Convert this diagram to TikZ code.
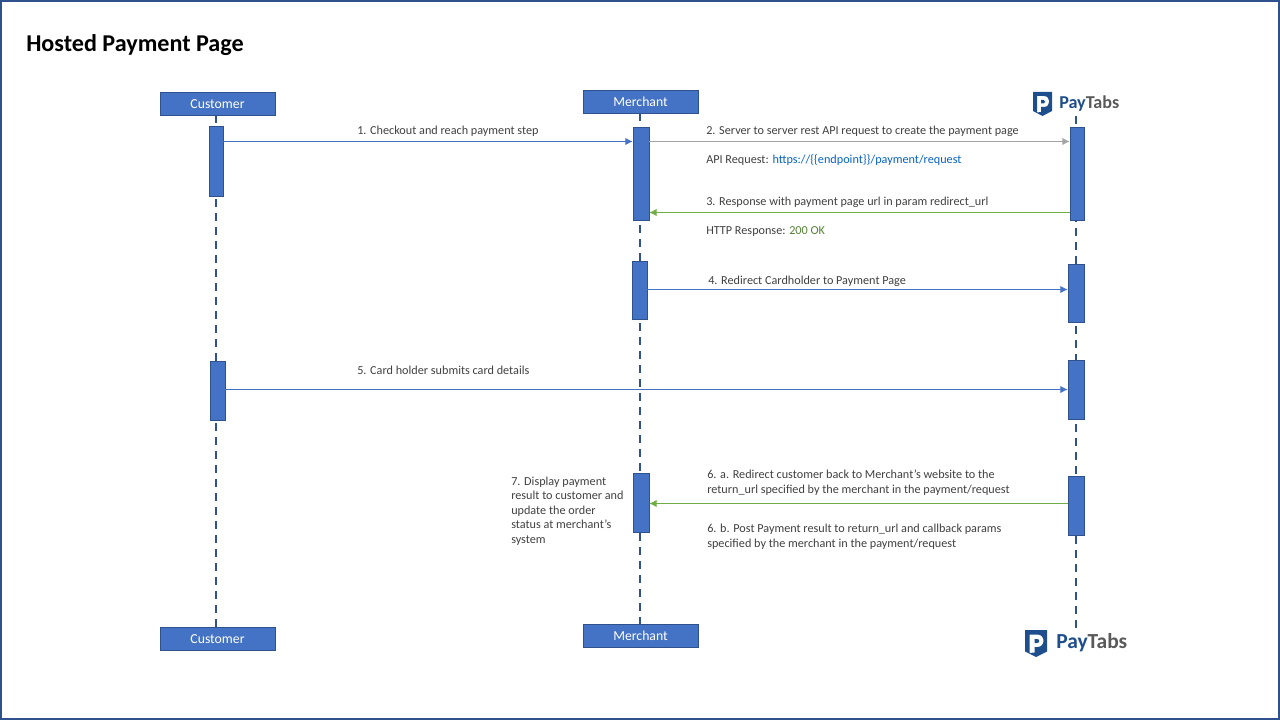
\documentclass[tikz,border=0pt]{standalone}
\usepackage{fontspec}
\usetikzlibrary{arrows.meta}
\setmainfont{Carlito}
\definecolor{boxblue}{HTML}{4472C4}
\definecolor{boxedge}{HTML}{2F528F}
\definecolor{msggray}{HTML}{A5A5A5}
\definecolor{msggreen}{HTML}{70AD47}
\definecolor{txtgray}{HTML}{404040}
\definecolor{linkblue}{HTML}{0563C1}
\definecolor{okgreen}{HTML}{548235}
\definecolor{logonavy}{HTML}{1F4E8C}
\definecolor{logogray}{HTML}{595959}
\tikzset{
  actorbox/.style={draw=boxedge,fill=boxblue,text=white,minimum width=86pt,minimum height=17.25pt,
    inner sep=0pt,font=\fontsize{10.3pt}{12pt}\selectfont},
  actbar/.style={draw=boxedge,fill=boxblue,inner sep=0pt},
  life/.style={boxedge,line width=1.1pt,dash pattern=on 6pt off 4.5pt},
  msgline/.style={-{Latex[length=5.5pt,width=5.5pt]},line width=0.75pt},
  msgtext/.style={anchor=west,inner sep=0pt,text=txtgray,align=left,
    font=\fontsize{9.15pt}{11.25pt}\selectfont},
}
\begin{document}
\begin{tikzpicture}[x=0.75pt,y=-0.75pt]
  \useasboundingbox (0,0) rectangle (1280,720);
  \draw[boxedge,line width=1.5pt] (1,1) rectangle (1279,719);
  \node[anchor=west,inner sep=0pt,font=\fontsize{18.1pt}{20pt}\selectfont\bfseries] (title) at (26,45) {Hosted Payment Page};
  % actors
  \node[actorbox,text depth=0pt,yshift=-0.5pt] (custtop) at (217.5,103) {Customer};
  \node[actorbox,text depth=0pt,yshift=-0.5pt] (custbot) at (217.5,638) {Customer};
  \node[actorbox] (merchtop) at (640.5,101.5) {Merchant};
  \node[actorbox] (merchbot) at (640.5,635.5) {Merchant};
  \coordinate (paytop) at (1076,116);
  \coordinate (paybot) at (1076,630);
  \coordinate (custx) at (216,0);
  \coordinate (merchx) at (640,0);
  % lifelines
  \draw[life] (custx |- custtop.south) -- (custx |- custbot.north);
  \draw[life] (merchx |- merchtop.south) -- (merchx |- merchbot.north);
  \draw[life] (paytop) -- (paybot);
  % bars
  \node[actbar,minimum width=10.5pt,minimum height=52.5pt] (cust1) at (216,161) {};
  \node[actbar,minimum width=11.25pt,minimum height=44.25pt] (cust2) at (217.5,390.5) {};
  \node[actbar,minimum width=12pt,minimum height=69.75pt] (merch1) at (641,173.5) {};
  \node[actbar,minimum width=11.25pt,minimum height=43.5pt] (merch2) at (639.5,290) {};
  \node[actbar,minimum width=12pt,minimum height=44.25pt] (merch3) at (641,502.5) {};
  \node[actbar,minimum width=10.5pt,minimum height=69.75pt] (pay1) at (1077,173.5) {};
  \node[actbar,minimum width=12pt,minimum height=43.5pt] (pay2) at (1076,293) {};
  \node[actbar,minimum width=12pt,minimum height=44.25pt] (pay3) at (1076,389.5) {};
  \node[actbar,minimum width=12pt,minimum height=44.25pt] (pay4) at (1076,505.5) {};
  % message heights
  \coordinate (y1) at (0,141.5);
  \coordinate (y3) at (0,212.5);
  \coordinate (y4) at (0,289.5);
  \coordinate (y5) at (0,389.5);
  \coordinate (y6) at (0,503.5);
  \draw[msgline,boxblue] (cust1.east |- y1) -- (merch1.west |- y1);
  \draw[msgline,msggray] (merch1.east |- y1) -- (pay1.west |- y1);
  \draw[msgline,msggreen] (pay1.west |- y3) -- (merch1.east |- y3);
  \draw[msgline,boxblue] (merch2.east |- y4) -- (pay2.west |- y4);
  \draw[msgline,boxblue] (cust2.east |- y5) -- (pay3.west |- y5);
  \draw[msgline,msggreen] (pay4.west |- y6) -- (merch3.east |- y6);
  % labels
  \node[msgtext] (t1) at (357,131) {1. Checkout and reach payment step};
  \node[msgtext] (t2) at (706,131) {2. Server to server rest API request to create the payment page};
  \node[msgtext] (t2b) at (706,160) {API Request: \textcolor{linkblue}{https://\{\{endpoint\}\}/payment/request}};
  \node[msgtext] (t3) at (706,202) {3. Response with payment page url in param redirect\_url};
  \node[msgtext] (t3b) at (706,231.5) {HTTP Response: \textcolor{okgreen}{200 OK}};
  \node[msgtext] (t4) at (708,281) {4. Redirect Cardholder to Payment Page};
  \node[msgtext] (t5) at (357,370.5) {5. Card holder submits card details};
  \node[msgtext] (t6a) at (707,483) {6. a. Redirect customer back to Merchant’s website to the\\return\_url specified by the merchant in the payment/request};
  \node[msgtext] (t6b) at (707,537) {6. b. Post Payment result to return\_url and callback params\\specified by the merchant in the payment/request};
  \node[msgtext,font=\fontsize{9.15pt}{10.9pt}\selectfont] (t7) at (511,511) {7. Display payment\\result to customer and\\update the order\\status at merchant’s\\system};
  % logos
  \fill[logonavy,even odd rule] (1033,92) -- (1052,92) -- (1052,111) -- (1042.5,116) -- (1033,111) -- cycle
    (1037,96) -- (1044,96) .. controls (1051,96) and (1051,107) .. (1044,107) -- (1041,107) -- (1041,112) -- (1037,112.5) -- cycle
    (1041,100) -- (1041,103.5) -- (1043.5,103.5) .. controls (1046,103.5) and (1046,100) .. (1043.5,100) -- cycle;
  \node[anchor=west,inner sep=0pt,font=\fontsize{13.6pt}{16pt}\selectfont\bfseries] (logotop) at (1059,103.5) {\textcolor{logonavy}{Pay}\textcolor{logogray}{Tabs}};
  \fill[logonavy,even odd rule] (1025,630) -- (1047,630) -- (1047,651.5) -- (1036,657) -- (1025,651.5) -- cycle
    (1029.5,634.5) -- (1037.5,634.5) .. controls (1045.5,634.5) and (1045.5,647) .. (1037.5,647) -- (1034.5,647) -- (1034.5,652.5) -- (1029.5,653) -- cycle
    (1034.5,639) -- (1034.5,643) -- (1037,643) .. controls (1040,643) and (1040,639) .. (1037,639) -- cycle;
  \node[anchor=west,inner sep=0pt,font=\fontsize{16.1pt}{19pt}\selectfont\bfseries] (logobot) at (1056,643) {\textcolor{logonavy}{Pay}\textcolor{logogray}{Tabs}};
\end{tikzpicture}
\end{document}
